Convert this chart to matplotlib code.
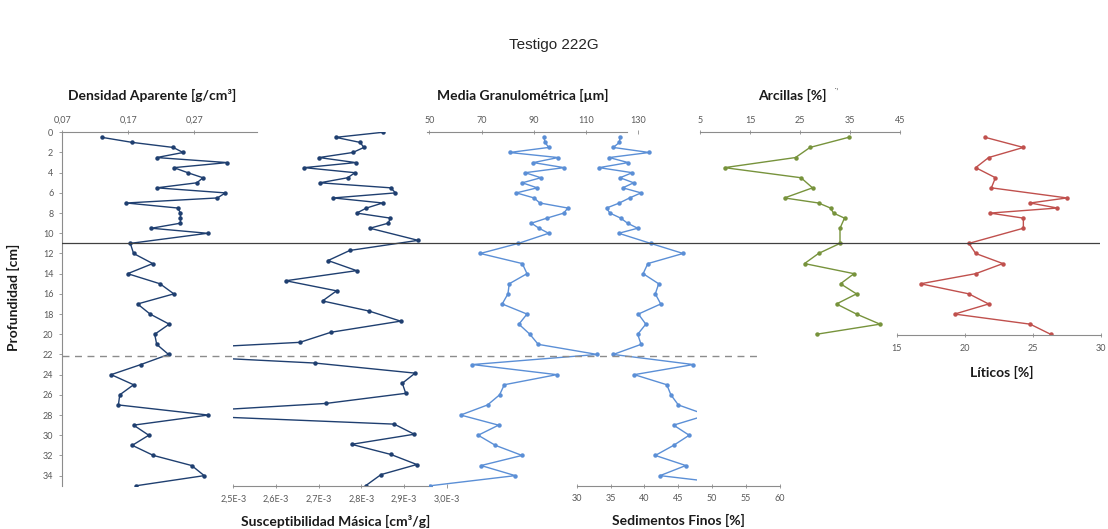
import matplotlib
matplotlib.use('Agg')
import matplotlib.pyplot as plt
from matplotlib.patches import Rectangle

W, H = 1108, 529
PX_CM = 10.098          # pixels per cm of depth in the reference
TOP = 132.3             # pixel row of depth 0

FONT = ['Lato', 'DejaVu Sans']
TICK_COLOR = '#595959'
AXIS_COLOR = '#8c8c8c'

# depths shared by density, grain size and fine sediments
DEPTH = [0.5, 1, 1.5, 2, 2.5, 3, 3.5, 4, 4.5, 5, 5.5, 6, 6.5, 7, 7.5, 8, 8.5, 9, 9.5, 10,
         11, 12, 13, 14, 15, 16, 17, 18, 19, 20, 21, 22, 23, 24, 25, 26, 27, 28, 29, 30,
         31, 32, 33, 34, 35]
DENSIDAD = [0.130, 0.176, 0.238, 0.253, 0.213, 0.320, 0.239, 0.260, 0.283, 0.274,
            0.213, 0.317, 0.305, 0.167, 0.245, 0.249, 0.249, 0.249, 0.205, 0.290,
            0.173, 0.178, 0.207, 0.169, 0.218, 0.239, 0.184, 0.203, 0.232, 0.210,
            0.213, 0.231, 0.189, 0.144, 0.178, 0.157, 0.155, 0.291, 0.178, 0.201,
            0.176, 0.208, 0.266, 0.285, 0.182]
MEDIA = [93.9, 94.3, 95.7, 80.7, 99.3, 89.8, 101.6, 86.7, 92.7, 85.6,
         91.3, 83.3, 90.1, 92.3, 103.0, 101.5, 95.0, 89.1, 92.0, 95.7,
         84.1, 69.5, 85.6, 87.4, 80.6, 80.1, 77.9, 87.4, 84.3, 88.5,
         91.7, 114.3, 66.5, 98.8, 78.7, 76.9, 72.3, 62.0, 76.5, 68.7,
         75.3, 85.5, 69.8, 82.9, 50.4]
SEDIMENTOS = [36.4, 36.3, 35.4, 40.7, 34.8, 37.6, 33.3, 38.2, 36.4, 38.4,
              36.8, 39.5, 37.8, 36.3, 34.4, 34.9, 36.5, 37.5, 39.0, 36.2,
              40.9, 45.7, 40.5, 39.8, 42.1, 41.6, 42.4, 39.1, 40.2, 39.0,
              39.5, 35.4, 47.2, 38.5, 43.3, 43.9, 45.0, 49.2, 44.3, 46.6,
              44.3, 41.6, 46.1, 42.3, 55.0]

# magnetic susceptibility (x 1E-3)
DEPTH_SUSC = [0, 0.5, 1, 1.5, 2, 2.5, 3, 3.5, 4, 4.5, 5, 5.5, 6, 6.5, 7, 7.5, 8, 8.5, 9, 9.5,
              10.7, 11.7, 12.7, 13.7, 14.7, 15.7, 16.7, 17.7, 18.7, 19.8, 20.8, 21.8,
              22.85, 23.85, 24.85, 25.85, 26.85, 27.9, 28.9, 29.9, 30.9, 31.9, 32.9, 33.9, 35]
SUSCEPTIBILIDAD = [2.850, 2.740, 2.797, 2.806, 2.780, 2.701, 2.787, 2.666, 2.785, 2.768,
                   2.703, 2.869, 2.880, 2.734, 2.850, 2.812, 2.789, 2.868, 2.863, 2.820,
                   2.933, 2.773, 2.722, 2.789, 2.623, 2.742, 2.709, 2.818, 2.892, 2.729,
                   2.656, 2.200, 2.691, 2.926, 2.896, 2.904, 2.717, 2.300, 2.877, 2.924,
                   2.777, 2.869, 2.930, 2.846, 2.810]

# clay and lithics, upper section only
DEPTH_SUP = [0.5, 1.5, 2.5, 3.5, 4.5, 5.5, 6.5, 7, 7.5, 8, 8.5, 9.5,
             11, 12, 13, 14, 15, 16, 17, 18, 19, 20]
ARCILLAS = [34.7, 27.0, 24.1, 9.9, 25.2, 27.5, 21.9, 28.7, 31.1, 31.7, 33.9, 33.0,
            33.0, 28.7, 25.9, 35.8, 33.1, 36.3, 32.3, 36.3, 41.0, 28.3]
LITICOS = [21.5, 24.3, 21.75, 20.8, 22.25, 21.95, 27.5, 24.8, 26.8, 21.85, 24.3, 24.3,
           20.3, 20.8, 22.8, 20.8, 16.75, 20.3, 21.75, 19.25, 24.8, 26.3]

Y_TICKS = [0, 2, 4, 6, 8, 10, 12, 14, 16, 18, 20, 22, 24, 26, 28, 30, 32, 34]
SUSC_TICKS = [2.5, 2.6, 2.7, 2.8, 2.9, 3.0]
SUSC_LABELS = ['2,5E-3', '2,6E-3', '2,7E-3', '2,8E-3', '2,9E-3', '3,0E-3']

LIMITE_SOLIDO = 10.93
LIMITE_DISCONTINUO = 22.2


def add_axes(fig, x0, x1, depth_max):
  y1 = TOP + depth_max * PX_CM
  ax = fig.add_axes([x0 / W, 1 - y1 / H, (x1 - x0) / W, (y1 - TOP) / H])
  ax.set_facecolor('none')
  ax.set_ylim(depth_max, 0)
  for side in ('left', 'right', 'top', 'bottom'):
    ax.spines[side].set_visible(False)
    ax.spines[side].set_color(AXIS_COLOR)
  ax.tick_params(colors=AXIS_COLOR, labelcolor=TICK_COLOR, labelsize=6.5, length=2.5, width=0.6)
  ax.tick_params(axis='y', left=False, labelleft=False)
  for lab in ax.get_xticklabels() + ax.get_yticklabels():
    lab.set_family(FONT)
  return ax


def series(ax, x, y, color, clip=None):
  line, = ax.plot(x, y, color=color, lw=1.0, marker='o', ms=2.2, mec=color, mfc=color)
  if clip is not None:
    rect = Rectangle((clip[0], 0), clip[1] - clip[0], 40, transform=ax.transData)
    line.set_clip_path(rect)
  return line


def top_axis(ax, ticks, labels=None):
  ax.spines['top'].set_visible(True)
  ax.xaxis.tick_top()
  ax.set_xticks(ticks)
  if labels:
    ax.set_xticklabels(labels)
  ax.tick_params(axis='x', direction='inout', pad=4)


def bottom_axis(ax, ticks, labels=None):
  ax.spines['bottom'].set_visible(True)
  ax.set_xticks(ticks)
  if labels:
    ax.set_xticklabels(labels)
  ax.tick_params(axis='x', direction='inout', pad=5)


def label(fig, x, y, text, **kw):
  kw.setdefault('fontsize', 10)
  kw.setdefault('fontweight', 'bold')
  kw.setdefault('family', FONT)
  kw.setdefault('color', '#1a1a1a')
  fig.text(x / W, 1 - y / H, text, ha='center', va='center', **kw)


def main():
  fig = plt.figure(figsize=(W / 100, H / 100), dpi=100)

  # Densidad aparente (carries the depth axis)
  ax = add_axes(fig, 62.3, 256.7, 35.05)
  ax.set_xlim(0.07, 0.3645)
  top_axis(ax, [0.07, 0.17, 0.27], ['0,07', '0,17', '0,27'])
  ax.spines['left'].set_visible(True)
  ax.tick_params(axis='y', left=True, labelleft=True, direction='out', pad=4)
  ax.set_yticks(Y_TICKS)
  for lab in ax.get_xticklabels() + ax.get_yticklabels():
    lab.set_family(FONT)
  series(ax, DENSIDAD, DEPTH, '#1f3f70')

  # Susceptibilidad masica
  ax = add_axes(fig, 233.3, 446.7, 35.0)
  ax.set_xlim(2.5, 3.0)
  bottom_axis(ax, SUSC_TICKS, SUSC_LABELS)
  ax.spines['bottom'].set_bounds(2.5, 2.965)
  for lab in ax.get_xticklabels():
    lab.set_family(FONT)
  series(ax, SUSCEPTIBILIDAD, DEPTH_SUSC, '#1f3f70')

  # Media granulometrica
  ax = add_axes(fig, 429.3, 638.3, 35.0)
  ax.set_xlim(50, 130)
  top_axis(ax, [50, 70, 90, 110, 130])
  ax.spines['top'].set_bounds(49, 125.5)
  for lab in ax.get_xticklabels():
    lab.set_family(FONT)
  series(ax, MEDIA, DEPTH, '#5b8fd6')

  # Sedimentos finos (plot area ends before the axis does)
  ax = add_axes(fig, 576.7, 780.0, 35.0)
  ax.set_xlim(30, 60)
  bottom_axis(ax, [30, 35, 40, 45, 50, 55, 60])
  for lab in ax.get_xticklabels():
    lab.set_family(FONT)
  series(ax, SEDIMENTOS, DEPTH, '#5b8fd6', clip=(30, 47.7))

  # Arcillas
  ax = add_axes(fig, 700.0, 900.0, 35.0)
  ax.set_xlim(5, 45)
  top_axis(ax, [5, 15, 25, 35, 45])
  for lab in ax.get_xticklabels():
    lab.set_family(FONT)
  series(ax, ARCILLAS, DEPTH_SUP, '#77933c')

  # Liticos
  ax = add_axes(fig, 896.7, 1101.0, 20.07)
  ax.set_xlim(15, 30)
  bottom_axis(ax, [15, 20, 25, 30])
  for lab in ax.get_xticklabels():
    lab.set_family(FONT)
  series(ax, LITICOS, DEPTH_SUP, '#c0504d')

  # section boundaries across the panels
  ov = add_axes(fig, 62.3, 1100.0, 35.05)
  ov.set_xlim(0, 1)
  ov.set_xticks([])
  ov.axhline(LIMITE_SOLIDO, color='#404040', lw=0.9, zorder=0)
  ov.axhline(LIMITE_DISCONTINUO, xmax=(760 - 62.3) / (1100 - 62.3), color='#8c8c8c',
             lw=1.0, ls=(0, (5, 4)), zorder=0)

  fig.text(554 / W, 1 - 45 / H, 'Testigo 222G', ha='center', va='center', fontsize=11,
           family=['Liberation Sans', 'DejaVu Sans'], color='#262626')
  label(fig, 152, 95, 'Densidad Aparente [g/cm³]')
  label(fig, 523, 95, 'Media Granulométrica [µm]')
  label(fig, 792, 95, 'Arcillas [%]')
  label(fig, 836, 91, '˙ʼ', fontsize=6, fontweight='normal', color='#555555')
  label(fig, 336, 521, 'Susceptibilidad Másica [cm³/g]')
  label(fig, 678, 520, 'Sedimentos Finos [%]')
  label(fig, 1002, 372, 'Líticos [%]')
  label(fig, 13, 297, 'Profundidad [cm]', rotation=90)

  fig.savefig('out.png', dpi=100)
  plt.close(fig)


if __name__ == '__main__':
  main()
